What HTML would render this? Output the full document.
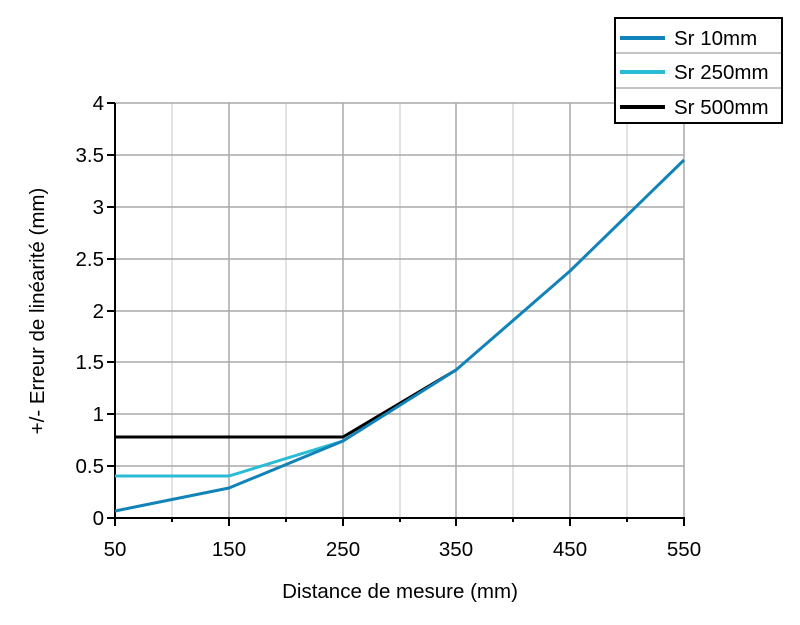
<!DOCTYPE html><html><head><style>body{margin:0;background:#fff}svg{font-family:"Liberation Sans",sans-serif}</style></head><body>
<svg width="800" height="620" xmlns="http://www.w3.org/2000/svg">
<g stroke="#d8d8d8" stroke-width="1.5">
<line x1="172" y1="103" x2="172" y2="518"/><line x1="286" y1="103" x2="286" y2="518"/><line x1="400" y1="103" x2="400" y2="518"/><line x1="513" y1="103" x2="513" y2="518"/><line x1="627" y1="103" x2="627" y2="518"/>
</g>
<g stroke="#a8a8a8" stroke-width="1.5">
<line x1="229" y1="103" x2="229" y2="518"/><line x1="343" y1="103" x2="343" y2="518"/><line x1="456" y1="103" x2="456" y2="518"/><line x1="570" y1="103" x2="570" y2="518"/><line x1="684" y1="103" x2="684" y2="518"/>
<line x1="115" y1="103" x2="684" y2="103"/><line x1="115" y1="155" x2="684" y2="155"/><line x1="115" y1="207" x2="684" y2="207"/><line x1="115" y1="259" x2="684" y2="259"/><line x1="115" y1="311" x2="684" y2="311"/><line x1="115" y1="362" x2="684" y2="362"/><line x1="115" y1="414" x2="684" y2="414"/><line x1="115" y1="466" x2="684" y2="466"/>
</g>
<g stroke="#000" stroke-width="2">
<line x1="115" y1="103" x2="115" y2="519"/><line x1="114" y1="518" x2="685" y2="518"/>
<path d="M107 103h8M107 155h8M107 207h8M107 259h8M107 311h8M107 362h8M107 414h8M107 466h8M107 518h8M115 518v8M229 518v8M343 518v8M456 518v8M570 518v8M684 518v8M172 518v4M286 518v4M400 518v4M513 518v4M627 518v4"/>
</g>
<g fill="none" stroke-width="3" stroke-linejoin="round">
<polyline stroke="#000" points="115,437 343,437 456,370"/>
<polyline stroke="#29bcd4" points="115,476 229,476 343,441"/>
<polyline stroke="#1283b8" points="115,511 229,488 343,441 456,370 570,271 684,160"/>
</g>
<g font-size="20.5" text-anchor="end" fill="#000">
<text x="104" y="110">4</text><text x="104" y="162">3.5</text><text x="104" y="214">3</text><text x="104" y="266">2.5</text><text x="104" y="318">2</text><text x="104" y="369">1.5</text><text x="104" y="421">1</text><text x="104" y="473">0.5</text><text x="104" y="525">0</text>
</g>
<g font-size="20.5" text-anchor="middle">
<text x="115" y="556">50</text><text x="229" y="556">150</text><text x="343" y="556">250</text><text x="456" y="556">350</text><text x="570" y="556">450</text><text x="684" y="556">550</text>
<text x="400" y="598">Distance de mesure (mm)</text>
<text transform="translate(44,311) rotate(-90)">+/- Erreur de linéarité (mm)</text>
</g>
<rect x="615" y="18" width="167" height="105" fill="#fff" stroke="#000" stroke-width="2"/>
<line x1="616" y1="53" x2="781" y2="53" stroke="#888"/><line x1="616" y1="88" x2="781" y2="88" stroke="#888"/>
<g stroke-width="4"><line x1="620" y1="38" x2="665" y2="38" stroke="#1283b8"/><line x1="620" y1="72" x2="665" y2="72" stroke="#29bcd4"/><line x1="620" y1="107" x2="665" y2="107" stroke="#000"/></g>
<g font-size="20.5"><text x="674" y="45">Sr 10mm</text><text x="674" y="79">Sr 250mm</text><text x="674" y="114">Sr 500mm</text></g>
</svg></body></html>
